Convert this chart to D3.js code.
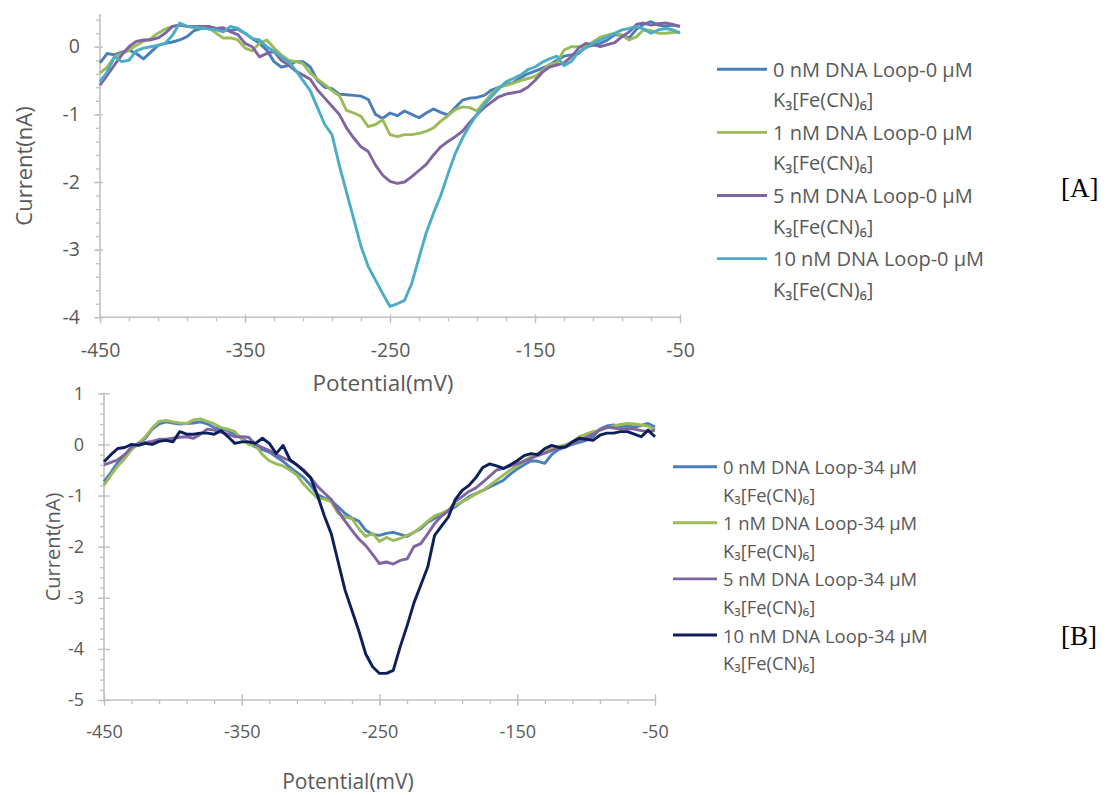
<!DOCTYPE html>
<html>
<head>
<meta charset="utf-8">
<script src="https://cdn.jsdelivr.net/npm/d3@7"></script>
<style>
  html, body { margin: 0; padding: 0; background: #ffffff; }
  svg { display: block; }
  text { font-family: "Open Sans", "Noto Sans", sans-serif; fill: #595959; }
  .panel-tag { font-family: "Liberation Serif", "DejaVu Serif", serif; fill: #000000; }
</style>
</head>
<body>
<svg id="chart" width="1106" height="795"></svg>
<script>
// Potential sweep (mV), sampled every 5 mV from -450 to -50
const potential = d3.range(-450, -49, 5);

// Panel A: DNA loop series without ferricyanide (nA)
const loopA0 = [-0.24,-0.10,-0.12,-0.08,-0.05,-0.10,-0.18,-0.08,0.02,0.05,0.07,0.10,0.15,0.24,0.27,0.28,0.27,0.25,0.24,0.26,0.20,0.12,0.05,-0.05,-0.22,-0.30,-0.28,-0.22,-0.22,-0.30,-0.50,-0.60,-0.62,-0.70,-0.71,-0.72,-0.73,-0.78,-1.00,-1.06,-0.98,-1.02,-0.95,-1.00,-1.05,-0.98,-0.92,-0.97,-1.01,-0.90,-0.79,-0.76,-0.75,-0.72,-0.64,-0.60,-0.56,-0.53,-0.46,-0.40,-0.36,-0.32,-0.27,-0.20,-0.14,-0.12,-0.10,0.00,0.02,0.05,0.10,0.18,0.17,0.13,0.26,0.33,0.37,0.32,0.30,0.32,0.30];
const loopA1 = [-0.39,-0.30,-0.15,-0.10,-0.05,0.02,0.08,0.12,0.20,0.26,0.30,0.32,0.30,0.28,0.28,0.28,0.20,0.13,0.13,0.10,-0.02,-0.06,0.05,0.10,-0.02,-0.12,-0.20,-0.22,-0.25,-0.39,-0.48,-0.56,-0.65,-0.72,-0.94,-0.98,-1.03,-1.18,-1.15,-1.08,-1.30,-1.33,-1.30,-1.30,-1.28,-1.25,-1.20,-1.10,-1.02,-0.93,-0.89,-0.90,-0.95,-0.82,-0.70,-0.60,-0.57,-0.54,-0.50,-0.47,-0.44,-0.36,-0.26,-0.24,-0.05,0.00,0.00,0.00,0.07,0.14,0.17,0.20,0.17,0.10,0.15,0.25,0.24,0.20,0.20,0.21,0.22];
const loopA5 = [-0.57,-0.42,-0.27,-0.12,0.00,0.08,0.10,0.10,0.13,0.20,0.30,0.32,0.30,0.30,0.30,0.30,0.27,0.28,0.22,0.18,0.05,0.00,-0.15,-0.10,-0.07,-0.20,-0.27,-0.36,-0.42,-0.48,-0.64,-0.76,-0.88,-1.00,-1.20,-1.35,-1.48,-1.55,-1.75,-1.90,-1.99,-2.02,-2.00,-1.92,-1.83,-1.74,-1.60,-1.48,-1.40,-1.33,-1.25,-1.12,-1.00,-0.90,-0.82,-0.74,-0.70,-0.68,-0.66,-0.60,-0.50,-0.38,-0.30,-0.27,-0.24,-0.15,-0.02,0.05,0.03,0.00,0.03,0.06,0.15,0.22,0.33,0.35,0.32,0.34,0.35,0.33,0.30];
const loopA10 = [-0.52,-0.37,-0.15,-0.22,-0.20,-0.06,-0.02,0.00,0.02,0.05,0.17,0.35,0.30,0.29,0.28,0.26,0.25,0.22,0.30,0.27,0.20,0.12,0.10,0.00,-0.07,-0.15,-0.22,-0.35,-0.50,-0.65,-0.90,-1.15,-1.30,-1.75,-2.15,-2.55,-2.95,-3.25,-3.45,-3.65,-3.84,-3.80,-3.75,-3.50,-3.12,-2.75,-2.46,-2.20,-1.88,-1.58,-1.35,-1.16,-1.00,-0.85,-0.74,-0.62,-0.52,-0.47,-0.42,-0.34,-0.30,-0.23,-0.18,-0.14,-0.28,-0.22,-0.08,-0.02,0.05,0.10,0.15,0.20,0.25,0.27,0.30,0.26,0.20,0.25,0.27,0.25,0.20];

// Panel B: DNA loop series with 34 µM ferricyanide (nA)
const loopB0 = [-0.73,-0.55,-0.35,-0.20,-0.10,0.02,0.12,0.30,0.40,0.44,0.42,0.40,0.41,0.42,0.44,0.40,0.33,0.30,0.27,0.20,0.12,0.03,-0.05,-0.10,-0.15,-0.24,-0.33,-0.45,-0.55,-0.65,-0.80,-0.98,-1.05,-1.10,-1.22,-1.35,-1.44,-1.50,-1.68,-1.76,-1.78,-1.74,-1.72,-1.76,-1.80,-1.72,-1.65,-1.52,-1.45,-1.38,-1.30,-1.22,-1.12,-1.02,-0.96,-0.90,-0.83,-0.77,-0.70,-0.58,-0.48,-0.40,-0.32,-0.33,-0.37,-0.20,-0.10,-0.05,0.00,0.04,0.08,0.15,0.30,0.36,0.38,0.35,0.36,0.34,0.37,0.41,0.34];
const loopB1 = [-0.80,-0.60,-0.42,-0.28,-0.10,0.02,0.15,0.32,0.45,0.47,0.44,0.42,0.41,0.48,0.50,0.45,0.40,0.33,0.30,0.25,0.10,0.00,-0.02,-0.20,-0.32,-0.38,-0.42,-0.50,-0.60,-0.78,-0.92,-1.05,-1.07,-1.12,-1.35,-1.42,-1.45,-1.65,-1.80,-1.74,-1.90,-1.82,-1.88,-1.84,-1.78,-1.72,-1.62,-1.50,-1.40,-1.35,-1.28,-1.19,-1.12,-1.05,-0.97,-0.90,-0.80,-0.70,-0.60,-0.50,-0.42,-0.32,-0.24,-0.18,-0.11,-0.08,-0.04,-0.01,0.05,0.15,0.20,0.25,0.28,0.32,0.36,0.39,0.41,0.40,0.38,0.36,0.28];
const loopB5 = [-0.40,-0.35,-0.30,-0.20,-0.05,0.02,0.04,0.06,0.10,0.10,0.12,0.14,0.15,0.12,0.20,0.30,0.28,0.24,0.20,0.15,0.15,0.14,0.00,-0.06,-0.12,-0.20,-0.26,-0.32,-0.40,-0.50,-0.65,-0.82,-0.95,-1.08,-1.30,-1.50,-1.68,-1.85,-1.98,-2.15,-2.33,-2.30,-2.34,-2.27,-2.24,-2.00,-1.94,-1.75,-1.55,-1.40,-1.30,-1.12,-1.02,-0.92,-0.85,-0.74,-0.62,-0.50,-0.47,-0.42,-0.38,-0.33,-0.27,-0.22,-0.17,-0.12,-0.07,-0.04,0.02,0.08,0.14,0.20,0.28,0.34,0.32,0.30,0.31,0.30,0.27,0.25,0.28];
const loopB10 = [-0.34,-0.20,-0.08,-0.06,0.00,-0.02,0.02,0.00,0.06,0.08,0.05,0.25,0.20,0.20,0.22,0.22,0.20,0.27,0.15,0.02,0.05,0.05,0.02,0.12,0.02,-0.18,-0.02,-0.30,-0.40,-0.52,-0.65,-1.00,-1.40,-1.75,-2.30,-2.85,-3.25,-3.65,-4.10,-4.35,-4.48,-4.48,-4.42,-3.96,-3.55,-3.10,-2.75,-2.40,-1.78,-1.60,-1.42,-1.08,-0.90,-0.80,-0.65,-0.45,-0.38,-0.42,-0.47,-0.40,-0.32,-0.22,-0.18,-0.20,-0.08,-0.02,-0.06,-0.05,0.05,0.12,0.10,0.08,0.18,0.22,0.22,0.25,0.25,0.20,0.15,0.28,0.15];

const labelsA = ["0 nM DNA Loop-0 µM", "1 nM DNA Loop-0 µM", "5 nM DNA Loop-0 µM", "10 nM DNA Loop-0 µM"];
const labelsB = ["0 nM DNA Loop-34 µM", "1 nM DNA Loop-34 µM", "5 nM DNA Loop-34 µM", "10 nM DNA Loop-34 µM"];
const saltLabel = "K₃[Fe(CN)₆]";
const colorsA = ["#4a7ebb", "#9bbb59", "#8064a2", "#4bacc6"];
const colorsB = ["#4a7ebb", "#9bbb59", "#8064a2", "#0c1f5c"];

const xTicks = [-450, -350, -250, -150, -50];
const xMinor = d3.range(-450, -49, 20);

const svg = d3.select("#chart");
// plain hyphen-minus for negative tick labels
const plain = d => String(d);

function drawPanel(cfg) {
  const g = svg.append("g");
  const x = d3.scaleLinear().domain([-450, -50]).range([cfg.left, cfg.right]);
  const y = d3.scaleLinear().domain(cfg.yDomain).range([cfg.bottom, cfg.top]);
  const axisColor = "#c0c0c0";
  const fs = cfg.fontSize;

  // minor ticks (outside only)
  const yMinor = d3.range(cfg.yDomain[0], cfg.yDomain[1] + 1e-9, 0.2).map(v => +v.toFixed(2));
  g.append("g").attr("transform", `translate(${cfg.left},0)`)
    .call(d3.axisLeft(y).tickValues(yMinor).tickSize(cfg.minorLen).tickFormat(""))
    .call(a => a.select(".domain").remove())
    .call(a => a.selectAll("line").attr("stroke", axisColor).attr("stroke-width", 1.3));
  g.append("g").attr("transform", `translate(0,${cfg.bottom})`)
    .call(d3.axisBottom(x).tickValues(xMinor).tickSize(cfg.minorLen).tickFormat(""))
    .call(a => a.select(".domain").remove())
    .call(a => a.selectAll("line").attr("stroke", axisColor).attr("stroke-width", 1.3));

  // major y axis (cross ticks)
  const yMajor = d3.range(Math.ceil(cfg.yDomain[0]), Math.floor(cfg.yDomain[1]) + 1, 1);
  g.append("g").attr("transform", `translate(${cfg.left},0)`)
    .call(d3.axisLeft(y).tickValues(yMajor).tickSize(cfg.majorOut).tickPadding(cfg.yPad).tickFormat(plain))
    .call(a => a.select(".domain").attr("stroke", axisColor).attr("stroke-width", 1.6)
      .attr("d", `M0,${y(cfg.yDomain[0])}V${cfg.axisTop}`))
    .call(a => a.selectAll(".tick line").attr("stroke", axisColor).attr("stroke-width", 1.3))
    .call(a => a.selectAll(".tick").append("line").attr("x1", 0).attr("x2", cfg.majorIn)
      .attr("stroke", axisColor).attr("stroke-width", 1.3))
    .call(a => a.selectAll("text").style("font-size", fs + "px").attr("fill", "#595959")
      .style("font-family", '"Open Sans", sans-serif'));

  // major x axis (cross ticks)
  g.append("g").attr("transform", `translate(0,${cfg.bottom})`)
    .call(d3.axisBottom(x).tickValues(xTicks).tickSize(cfg.majorOut).tickPadding(cfg.xPad).tickFormat(plain))
    .call(a => a.select(".domain").attr("stroke", axisColor).attr("stroke-width", 1.6)
      .attr("d", `M${cfg.left},0H${cfg.right}`))
    .call(a => a.selectAll(".tick line").attr("stroke", axisColor).attr("stroke-width", 1.3))
    .call(a => a.selectAll(".tick").append("line").attr("y1", 0).attr("y2", -cfg.majorIn)
      .attr("stroke", axisColor).attr("stroke-width", 1.3))
    .call(a => a.selectAll("text").style("font-size", fs + "px").attr("fill", "#595959")
      .style("font-family", '"Open Sans", sans-serif'));

  // series lines
  const line = d3.line().x((d, i) => x(potential[i])).y(d => y(d));
  cfg.series.forEach((s, i) => {
    g.append("path").datum(s).attr("fill", "none").attr("stroke", cfg.colors[i])
      .attr("stroke-width", cfg.lineWidth).attr("stroke-linejoin", "round").attr("d", line);
  });

  // axis titles
  g.append("text").attr("x", cfg.xTitle[0]).attr("y", cfg.xTitle[1]).attr("text-anchor", "middle")
    .attr("dominant-baseline", "central").style("font-size", cfg.titleSize + "px").text("Potential(mV)");
  g.append("text").attr("transform", `translate(${cfg.yTitle[0]},${cfg.yTitle[1]}) rotate(-90)`)
    .attr("text-anchor", "middle").attr("dominant-baseline", "central")
    .style("font-size", cfg.yTitleSize + "px").text("Current(nA)");

  // legend
  cfg.labels.forEach((lab, i) => {
    const cy = cfg.legendTop + i * cfg.legendStep;
    g.append("line").attr("x1", cfg.legendX).attr("x2", cfg.legendX + cfg.legendLen)
      .attr("y1", cy).attr("y2", cy).attr("stroke", cfg.colors[i]).attr("stroke-width", cfg.lineWidth);
    g.append("text").attr("x", cfg.legendX + cfg.legendLen + 6).attr("y", cy)
      .attr("dominant-baseline", "central").style("font-size", cfg.legendSize + "px").text(lab);
    g.append("text").attr("x", cfg.legendX + cfg.legendLen + 6).attr("y", cy + cfg.legendLine)
      .attr("dominant-baseline", "central").style("font-size", cfg.legendSize + "px").text(saltLabel);
  });

  svg.append("text").attr("class", "panel-tag").attr("x", cfg.tag[0]).attr("y", cfg.tag[1])
    .attr("dominant-baseline", "central").style("font-size", "27px").text(cfg.tagText);
}

drawPanel({
  left: 100, right: 680, top: 12.9, bottom: 317.3, axisTop: 14, yDomain: [-4, 0.5],
  majorOut: 6, majorIn: 3, minorLen: 4, yPad: 14, xPad: 20,
  fontSize: 19.5, titleSize: 22.5, yTitleSize: 22, lineWidth: 2.9,
  series: [loopA0, loopA1, loopA5, loopA10], colors: colorsA, labels: labelsA,
  xTitle: [383, 382], yTitle: [23, 166],
  legendX: 717, legendLen: 50, legendTop: 69.3, legendStep: 63.1, legendLine: 30.5, legendSize: 20,
  tag: [1061, 188], tagText: "[A]"
});

drawPanel({
  left: 104, right: 655, top: 393.3, bottom: 700, axisTop: 393.3, yDomain: [-5, 1],
  majorOut: 6, majorIn: 6, minorLen: 4, yPad: 14, xPad: 19,
  fontSize: 18, titleSize: 21, yTitleSize: 20, lineWidth: 2.9,
  series: [loopB0, loopB1, loopB5, loopB10], colors: colorsB, labels: labelsB,
  xTitle: [348, 781], yTitle: [52, 547],
  legendX: 673, legendLen: 44, legendTop: 466.7, legendStep: 56.1, legendLine: 27.6, legendSize: 18.4,
  tag: [1061, 636], tagText: "[B]"
});
</script>
</body>
</html>
